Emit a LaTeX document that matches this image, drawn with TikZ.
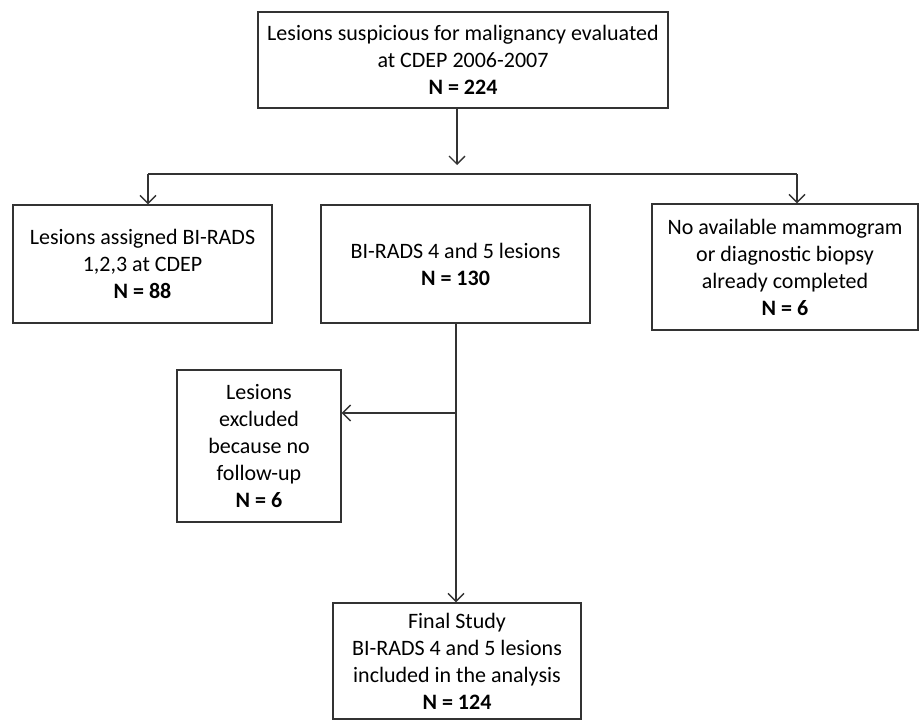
\documentclass[tikz,border=0pt]{standalone}
\usepackage{fontspec}
\setmainfont{Carlito}
\usetikzlibrary{arrows.meta}
\tikzset{
  box/.style={draw=black!80, line width=1.4pt, align=center, inner sep=2pt,
    font=\fontsize{22}{27}\selectfont},
  arr/.style={draw=black!80, line width=1.4pt, -{Straight Barb[length=8pt,width=16pt,line width=1.4pt]}},
  ln/.style={draw=black!80, line width=1.4pt}
}
\begin{document}
\begin{tikzpicture}[x=1pt,y=-1pt]
\useasboundingbox (0,0) rectangle (919,720);
\node[box, minimum width=410pt, minimum height=96pt] (top) at (463,60) {Lesions suspicious for malignancy evaluated\\ at CDEP 2006-2007\\ \textbf{N = 224}};
\node[box, minimum width=259pt, minimum height=118pt] (left) at (142.5,264) {Lesions assigned BI-RADS\\ 1,2,3 at CDEP\\ \textbf{N = 88}};
\node[box, minimum width=269pt, minimum height=118pt] (mid) at (455.5,264) {BI-RADS 4 and 5 lesions\\ \textbf{N = 130}};
\node[box, minimum width=266pt, minimum height=126pt] (right) at (785,267) {No available mammogram\\ or diagnostic biopsy\\ already completed\\ \textbf{N = 6}};
\node[box, minimum width=164pt, minimum height=152pt] (excl) at (259,446) {Lesions\\ excluded\\ because no\\ follow-up\\ \textbf{N = 6}};
\node[box, minimum width=248pt, minimum height=116pt] (fin) at (457,661) {Final Study\\ BI-RADS 4 and 5 lesions\\ included in the analysis\\ \textbf{N = 124}};
\coordinate (fork) at (457,165);
\coordinate (barL) at (148,174);
\coordinate (barR) at (797,174);
\coordinate (branch) at (456,413);
\draw[arr] (top.south -| fork) -- (fork);
\draw[ln] (barL) -- (barR);
\draw[arr] (barL) -- (barL |- left.north);
\draw[arr] (barR) -- (barR |- right.north);
\draw[ln] (mid.south -| branch) -- (branch);
\draw[arr] (branch) -- (branch |- fin.north);
\draw[arr] (branch) -- (branch -| excl.east);
\end{tikzpicture}
\end{document}
